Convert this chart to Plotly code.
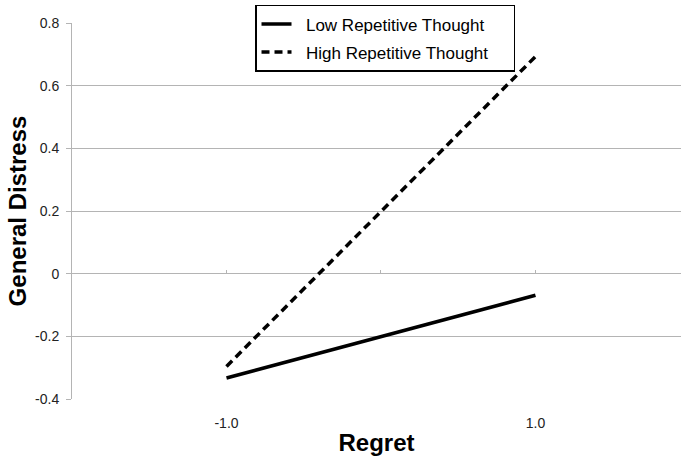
import plotly.graph_objects as go

regret = [-1.0, 1.0]
low_rt = [-0.333, -0.069]
high_rt = [-0.296, 0.693]
series_names = ["Low Repetitive Thought", "High Repetitive Thought"]
x_ticks = [-1.0, 1.0]
x_tick_labels = ["-1.0", "1.0"]
y_ticks = [-0.4, -0.2, 0, 0.2, 0.4, 0.6, 0.8]
y_tick_labels = ["-0.4", "-0.2", "0", "0.2", "0.4", "0.6", "0.8"]

NB = "\u00a0"


def legend_label(name, width):
    # pad with non-breaking spaces so the legend box keeps the reference's width
    return NB * 2 + name + NB * max(0, width - len(name))


fig = go.Figure()
fig.add_trace(go.Scatter(x=regret, y=low_rt, mode="lines",
                         name=legend_label(series_names[0], 27),
                         legendgroup="a",
                         line=dict(color="black", width=3.5)))
fig.add_trace(go.Scatter(x=regret, y=high_rt, mode="lines",
                         name=legend_label(series_names[1], 27),
                         legendgroup="b",
                         line=dict(color="black", width=3.5, dash="8px,5px")))
# invisible trace for tick marks on the zero line
fig.add_trace(go.Scatter(x=regret, y=low_rt, xaxis="x2", mode="lines",
                         showlegend=False, hoverinfo="skip",
                         line=dict(color="rgba(0,0,0,0)")))

grid = "#b4b4b4"
fig.update_layout(
    width=681, height=461,
    margin=dict(l=72, r=0, t=23, b=62, autoexpand=False),
    paper_bgcolor="white", plot_bgcolor="white",
    font=dict(family="Liberation Sans, Arial, sans-serif", color="#222222"),
    showlegend=True,
    legend=dict(x=0.3005, y=1.048, xanchor="left", yanchor="top",
                bordercolor="black", borderwidth=1.5, bgcolor="white",
                font=dict(size=17, color="black"), tracegroupgap=3),
    xaxis=dict(range=[-2, 1.942], tickmode="array", tickvals=x_ticks,
               ticktext=x_tick_labels, showgrid=False, zeroline=False,
               showline=False, ticks="", tickfont=dict(size=14, color="#222222"),
               ticklabelstandoff=14, automargin=False,
               title=dict(text="<b>Regret</b>", font=dict(size=24, color="black"),
                          standoff=4)),
    xaxis2=dict(range=[-2, 1.942], overlaying="x", anchor="free", position=1/3,
                side="bottom", tickmode="array", tickvals=[-1, 0, 1],
                ticks="inside", ticklen=4, tickcolor=grid, tickwidth=1,
                showticklabels=False, showgrid=False, zeroline=False,
                showline=False),
    yaxis=dict(range=[-0.4, 0.8], tickmode="array", tickvals=y_ticks,
               ticktext=y_tick_labels, showgrid=True, gridcolor=grid, gridwidth=1,
               zeroline=True, zerolinecolor=grid, zerolinewidth=1,
               showline=True, linecolor=grid, linewidth=1,
               ticks="outside", ticklen=5, tickcolor=grid, automargin=False,
               tickfont=dict(size=14, color="#222222"), ticklabelstandoff=4,
               title=dict(text="<b>General Distress</b>",
                          font=dict(size=24, color="black"), standoff=1)),
)

fig.write_html("out.html", config={"displayModeBar": False},
               post_script="document.body.style.margin='0';document.body.style.overflow='hidden';")
